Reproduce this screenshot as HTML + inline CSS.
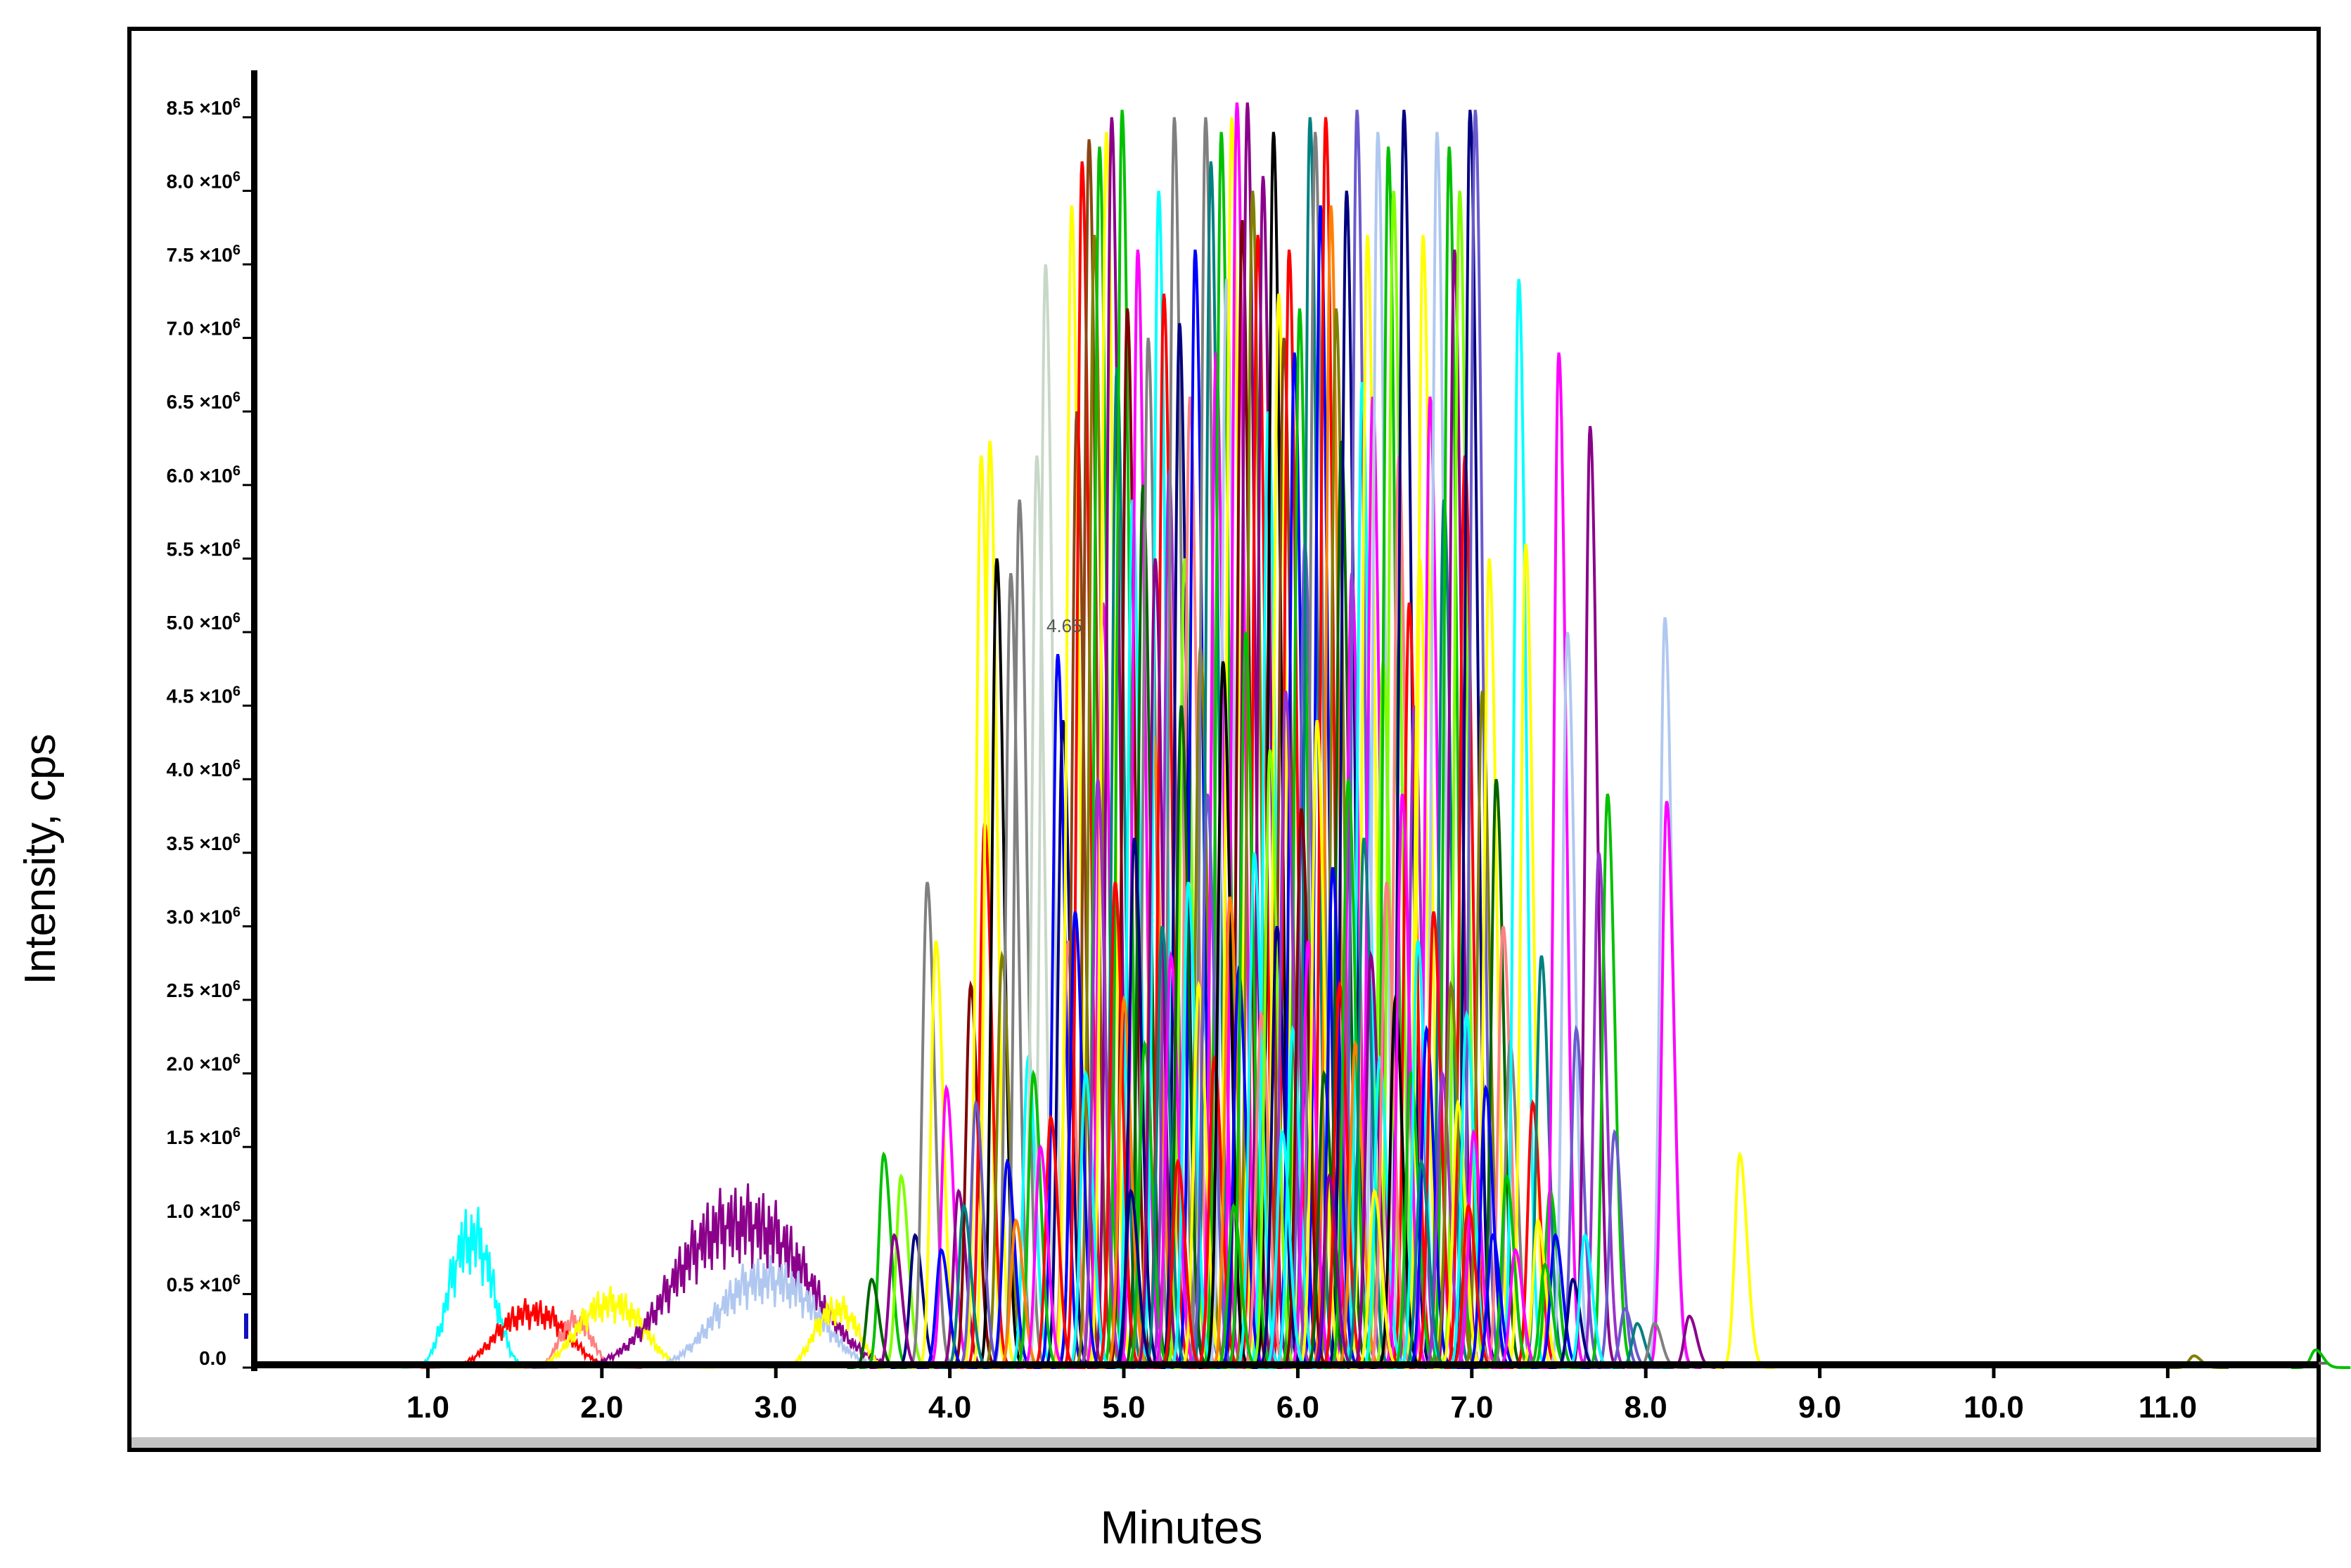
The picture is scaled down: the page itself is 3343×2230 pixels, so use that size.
<!DOCTYPE html>
<html><head><meta charset="utf-8"><style>
html,body{margin:0;padding:0;background:#fff;}
svg{display:block;font-family:"Liberation Sans",sans-serif;}
</style></head><body>
<svg id="chart" width="3343" height="2230" viewBox="0 0 3343 2230" xmlns="http://www.w3.org/2000/svg">
<rect x="184" y="41" width="3113" height="2021" fill="#fff" stroke="#000" stroke-width="6"/>
<rect x="187" y="2044" width="3107" height="15" fill="#c4c4c4"/>
<g id="traces"></g>
<g id="axes"></g>
<text transform="translate(78,1222) rotate(-90)" text-anchor="middle" font-size="62" fill="#000">Intensity, cps</text>
<text x="1680" y="2195" text-anchor="middle" font-size="66" fill="#000">Minutes</text>
<text x="1488" y="899" font-size="26" fill="#555">4.65</text>
<rect x="347" y="1868" width="6" height="36" fill="#1010c0"/>
</svg>
<script>
const xTicks=[1,2,3,4,5,6,7,8,9,10,11];
const xTickLabels=["1.0","2.0","3.0","4.0","5.0","6.0","7.0","8.0","9.0","10.0","11.0"];
const yTickLabels=["0.0","0.5","1.0","1.5","2.0","2.5","3.0","3.5","4.0","4.5","5.0","5.5","6.0","6.5","7.0","7.5","8.0","8.5"];
const palette=["#ff0000","#0000ff","#00c000","#ff00ff","#00ffff","#ffff00","#8b008b","#808080","#000080","#006400","#8b4513","#b0c8f0","#ff8000","#008080","#808000","#000000","#80ff00","#6a5acd","#ff8080","#800000","#c8d8c8","#9932cc"];
const peakRT=[3.62,3.72,3.80,3.87,3.92,3.98,4.05,4.12,4.18,4.2,4.23,4.27,4.3,4.35,4.4,4.45,4.5,4.55,4.62,4.65,4.68,
4.7,4.73,4.76,4.8,4.83,4.86,4.88,4.9,4.93,4.96,4.99,5.02,5.05,5.08,5.11,5.14,5.17,5.2,5.23,5.26,5.29,5.32,5.35,5.38,5.41,5.44,5.47,5.5,5.53,5.56,5.59,5.62,5.65,5.68,5.71,5.74,5.77,5.8,5.83,5.86,5.89,5.92,5.95,5.98,6.01,6.04,6.07,6.1,6.13,6.16,6.19,6.22,6.25,6.28,6.31,6.34,6.37,6.4,6.43,6.46,6.49,6.52,6.55,6.58,6.61,6.64,6.67,6.7,
6.72,6.76,6.8,6.84,6.87,6.9,6.93,6.96,6.99,7.02,7.06,7.1,7.14,7.18,7.22,7.27,7.31,7.35,7.4,7.45,7.5,7.55,7.6,7.68,7.73,7.78,7.82,8.11,8.12,8.25,8.54,11.15,11.85,
4.72,4.78,4.85,4.95,5.0,5.06,5.12,5.18,5.22,5.27,5.33,5.37,5.43,5.48,5.52,5.57,5.61,5.66,5.7,5.75,5.79,5.84,5.88,5.93,5.97,6.02,6.06,6.11,6.15,6.2,6.24,6.29,6.33,6.38,6.42,6.47,6.51,6.56,6.6,6.65,6.69,6.74,6.78,6.83,6.88,6.92,6.97,7.01,7.08,7.2,7.38,7.48,4.15,4.33,4.48,4.58,
3.55,3.68,3.95,4.08,4.38,4.52,5.04,5.31,5.63,5.91,6.18,6.44,6.71,6.98,7.12,7.25,7.42,7.58,7.65,7.88,7.95,8.05];
const peakHeight=[1.45,1.3,0.9,3.3,2.9,1.9,1.2,2.6,6.2,3.7,6.3,5.5,2.8,5.4,5.9,2.1,6.2,7.5,4.85,4.4,2.9,
7.9,6.5,8.2,8.35,7.7,8.3,5.2,8.4,8.5,6.8,8.55,7.2,5.9,7.6,6.0,7.0,4.3,8.0,7.3,6.1,8.5,7.1,5.5,6.6,7.6,4.9,8.5,8.2,6.9,8.4,7.4,8.5,8.6,7.8,8.6,8.0,7.7,8.1,6.5,8.4,7.3,7.0,7.6,6.9,7.2,5.6,8.5,8.4,7.9,8.5,7.9,7.2,6.3,8.0,5.4,8.55,6.7,7.7,6.6,8.4,4.8,8.3,8.0,6.2,8.55,5.2,4.5,5.5,
7.7,6.6,8.4,5.9,8.3,7.6,8.0,6.2,8.55,8.55,4.6,5.5,4.0,3.0,2.2,7.4,5.6,1.8,2.8,1.2,6.9,5.0,2.3,6.4,3.5,3.9,1.6,5.1,3.85,0.35,1.45,0.08,0.12,
3.1,2.0,4.0,3.3,2.5,3.6,2.2,5.5,3.0,2.8,4.5,3.3,2.6,3.9,2.1,4.8,3.2,2.7,5.0,3.5,2.4,4.2,3.0,4.6,2.3,3.8,2.9,4.4,2.0,3.4,2.6,4.0,2.2,3.6,2.8,2.1,3.3,2.5,3.9,2.0,2.9,2.3,3.1,2.0,2.6,1.8,2.4,1.6,1.9,1.3,1.0,0.9,1.8,1.4,2.0,1.7,
0.6,0.9,0.8,1.1,1.0,1.5,1.2,1.4,1.1,1.6,1.3,1.2,1.4,1.1,0.9,0.8,0.7,0.6,0.9,0.4,0.3,0.3];
const peakColor=[2,16,8,7,5,3,6,19,5,0,5,15,14,7,7,4,20,20,1,8,18,
5,10,0,10,14,2,3,5,6,13,2,19,4,3,9,7,12,4,0,21,7,8,16,18,1,14,7,13,3,2,11,5,3,19,6,14,0,6,4,15,5,10,0,1,2,17,13,7,1,0,12,14,9,8,3,17,4,5,3,11,16,2,16,18,8,0,21,5,
5,3,11,13,2,6,16,0,8,17,14,5,9,18,7,4,5,0,13,2,3,11,17,6,21,2,17,11,3,6,5,14,2,
1,4,21,0,12,8,2,6,13,3,9,4,5,17,0,15,12,1,2,4,18,16,8,21,4,19,3,5,9,1,0,2,12,13,6,4,18,15,3,2,4,1,0,21,14,5,4,3,1,2,5,1,17,1,2,0,
9,6,1,13,12,3,8,0,2,4,6,5,13,0,1,3,2,8,4,17,13,7];
const humpRT=[1.25,1.6,1.85,2.05,2.8,2.95,3.35];
const humpHeight=[0.85,0.36,0.3,0.42,0.95,0.58,0.38];
const humpWidth=[0.2,0.32,0.15,0.3,0.6,0.45,0.2];
const humpColor=[4,0,18,5,6,11,5];

const X0=361, PXMIN=247.4, Y0=1945, PXUNIT=209.2;
function xs(t){return X0+t*PXMIN;}
function ys(v){return Y0-v*PXUNIT;}
const NS="http://www.w3.org/2000/svg";
const traces=document.getElementById('traces');
const axes=document.getElementById('axes');

const base=document.createElementNS(NS,'line');


base.setAttribute('x1',xs(0.15));base.setAttribute('x2',xs(11.92));
base.setAttribute('y1',ys(0.03));base.setAttribute('y2',ys(0.03));
base.setAttribute('stroke','#666');base.setAttribute('stroke-width','4');
traces.appendChild(base);

const jitter=[0,0.12,-0.08,0.15,-0.13,0.05,0.18,-0.1,0.03,-0.16,0.14,-0.04,0.1,-0.12,0.07,0.2,-0.06,0.12,-0.18,0.02];
for(let i=0;i<humpRT.length;i++){
  let pts=[];let k=0;
  const w=humpWidth[i];
  for(let t=humpRT[i]-2*w;t<=humpRT[i]+2*w;t+=0.008){
    const d=(t-humpRT[i])/w;
    let v=humpHeight[i]*Math.exp(-Math.pow(Math.abs(d),2.5)*1.5);
    v=v*(1+jitter[k%jitter.length]*1.6);k++;
    pts.push(xs(t).toFixed(1)+','+ys(Math.max(v,0)).toFixed(1));
  }
  const p=document.createElementNS(NS,'polyline');
  
  
  p.setAttribute('points',pts.join(' '));
  p.setAttribute('fill','none');p.setAttribute('stroke',palette[humpColor[i]]);p.setAttribute('stroke-width','3');
  traces.appendChild(p);
}
const SIG=0.028;
for(let i=0;i<peakRT.length;i++){
  let pts=[];
  for(let t=peakRT[i]-0.14;t<=peakRT[i]+0.2;t+=0.004){
    const d=t-peakRT[i];
    const s=d>0?SIG*1.5:SIG;
    const v=peakHeight[i]*Math.exp(-d*d/(2*s*s));
    pts.push(xs(t).toFixed(1)+','+ys(v).toFixed(1));
  }
  const p=document.createElementNS(NS,'polyline');
  
  
  p.setAttribute('points',pts.join(' '));
  p.setAttribute('fill','none');p.setAttribute('stroke',palette[peakColor[i]]);p.setAttribute('stroke-width','4');
  traces.appendChild(p);
}
const ya=document.createElementNS(NS,'rect');


ya.setAttribute('x',357);ya.setAttribute('y',100);ya.setAttribute('width',9);ya.setAttribute('height',1850);ya.setAttribute('fill','#000');
axes.appendChild(ya);
const xa=document.createElementNS(NS,'rect');


xa.setAttribute('x',357);xa.setAttribute('y',1936);xa.setAttribute('width',2940);xa.setAttribute('height',10);xa.setAttribute('fill','#000');
axes.appendChild(xa);
for(let i=0;i<xTicks.length;i++){
  const x=xs(xTicks[i]);
  const t=document.createElementNS(NS,'rect');
  
  
  t.setAttribute('x',x-2.5);t.setAttribute('y',1946);t.setAttribute('width',5);t.setAttribute('height',14);t.setAttribute('fill','#000');
  axes.appendChild(t);
  const l=document.createElementNS(NS,'text');
  
  
  l.setAttribute('x',x);l.setAttribute('y',2016);l.setAttribute('text-anchor','middle');l.setAttribute('font-size','44');l.setAttribute('font-weight','bold');
  l.textContent=xTickLabels[i];
  axes.appendChild(l);
}
for(let i=0;i<yTickLabels.length;i++){
  const y=ys(parseFloat(yTickLabels[i]));
  const t=document.createElementNS(NS,'rect');
  
  
  t.setAttribute('x',345);t.setAttribute('y',y-1.5);t.setAttribute('width',14);t.setAttribute('height',3);t.setAttribute('fill','#000');
  axes.appendChild(t);
  const l=document.createElementNS(NS,'text');
  
  
  l.setAttribute('x',i===0?322:342);l.setAttribute('y',y-4);l.setAttribute('text-anchor','end');l.setAttribute('font-size','28');l.setAttribute('font-weight','bold');
  if(i===0){l.textContent=yTickLabels[i];}
  else{
    l.textContent=yTickLabels[i]+' \u00d710';
    const sup=document.createElementNS(NS,'tspan');
    
    
    sup.setAttribute('dy','-10');sup.setAttribute('font-size','20');
    sup.textContent='6';
    l.appendChild(sup);
  }
  axes.appendChild(l);
}
</script>
</body></html>
